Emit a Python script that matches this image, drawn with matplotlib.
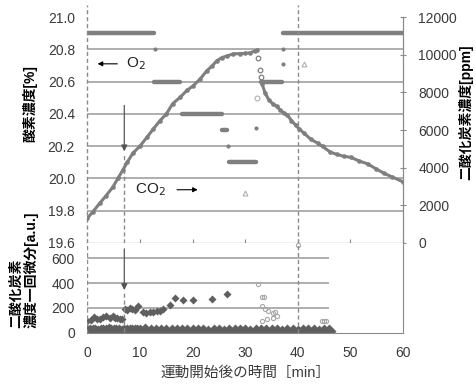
import numpy as np
import matplotlib
matplotlib.use("Agg")
import matplotlib.pyplot as plt

plt.rcParams['font.family'] = ['Liberation Sans', 'Noto Sans CJK JP', 'DejaVu Sans']

# --- O2 [%] (left axis): flat runs of points
o2_start = [0.0, 12.7, 18.0, 25.6, 27.0, 33.0, 37.2]
o2_end = [12.6, 17.6, 25.6, 26.6, 32.1, 36.9, 60.0]
o2_level = [20.9, 20.6, 20.4, 20.3, 20.1, 20.6, 20.9]
o2_pt_t = [12.8, 26.8, 37.2, 37.2, 32.1]
o2_pt_v = [20.8, 20.2, 20.8, 20.71, 20.31]
# faint open marks
o2_open_t = [32.3, 41.1, 30.0]
o2_open_v = [20.5, 20.71, 19.91]
o2_open_m = ['o', '^', '^']

# --- CO2 [ppm] (right axis)
co2_up_t = [0.0, 1.0, 2.3, 3.5, 4.8, 5.8, 6.7, 7.6, 8.6, 10.0, 11.3, 12.5, 13.8, 15.0,
            16.2, 17.6, 18.9, 20.1, 21.4, 22.7, 23.7, 24.6, 25.6, 26.6, 27.7, 29.0,
            30.0, 31.0, 31.8, 32.3]
co2_up_v = [1320, 1650, 2100, 2500, 2960, 3440, 3860, 4300, 4760, 5150, 5610, 6050, 6500, 6850,
            7400, 7730, 8100, 8350, 8700, 9150, 9400, 9680, 9850, 9940, 10040, 10060,
            10070, 10100, 10200, 10250]
co2_mid_t = [32.5, 32.8, 33.0]
co2_mid_v = [9850, 9200, 8800]
co2_dn_t = [33.2, 33.8, 34.5, 35.2, 36.0, 36.7, 37.4, 38.0, 38.8, 39.6, 40.3, 41.1, 42.5,
            43.8, 44.7, 46.2, 47.5, 48.8, 50.1, 51.7, 53.3, 54.8, 56.4, 58.0, 60.0]
co2_dn_v = [8450, 7950, 7600, 7400, 7250, 7050, 6900, 6800, 6500, 6250, 6050, 5850, 5500,
            5300, 5130, 4820, 4700, 4600, 4550, 4350, 4200, 3950, 3700, 3500, 3250]

# --- first derivative [a.u.]
diff_t = [0.0, 0.6, 1.3, 1.8, 2.3, 3.0, 3.6, 4.2, 4.8, 5.3, 5.7, 6.1, 6.5, 7.1, 7.5, 8.0,
          8.5, 9.0, 9.6, 10.5, 11.2, 11.8, 12.5, 13.2, 13.8, 14.3, 15.7, 16.6, 18.2, 20.1,
          23.7, 26.6]
diff_v = [89, 100, 122, 110, 105, 125, 130, 118, 130, 120, 113, 108, 105, 187, 180, 195,
          188, 178, 211, 162, 155, 162, 165, 170, 175, 187, 219, 276, 259, 259, 268, 308]
diff_open_t = [32.5, 33.2, 33.5, 33.2, 33.8, 34.4, 35.2, 35.6, 36.0, 35.2, 34.2, 33.2,
               44.6, 45.0, 45.3, 40.0]
diff_open_v = [389, 284, 290, 211, 186, 170, 154, 162, 130, 114, 105, 89, 89, 92, 95, 705]
base_t = [0.0, 0.5, 1.0, 1.5, 2.0, 2.5, 3.0, 3.5, 4.0, 4.5, 5.0, 5.5, 6.0, 6.5, 7.0, 7.5,
          8.0, 8.5, 9.0, 9.5, 10.0, 11.0, 12.0, 13.0, 14.0, 15.0, 16.0, 17.0, 18.0, 19.0,
          20.0, 21.0, 22.0, 23.0, 24.0, 25.0, 26.0, 27.0, 28.0, 29.0, 30.0, 31.0, 32.0,
          33.0, 34.0, 35.0, 36.0, 37.0, 38.0, 39.0, 40.0, 41.0, 42.0, 43.0, 44.0, 45.0, 46.0]
base_v = [12, 8, 15, 10, 6, 14, 9, 12, 16, 10, 8, 13, 11, 7, 15, 10, 12, 9, 14, 8, 11, 16,
          10, 13, 9, 12, 15, 8, 11, 14, 10, 12, 9, 6, 8, 10, 7, 9, 11, 8, 10, 7, 9, 12, 8,
          10, 9, 6, 8, 10, 7, 9, 8, 10, 7, 9, 8]

gray = '#7f7f7f'
dark = '#5f5f5f'
grid = '#a8a8a8'
txt = '#3a3a3a'

fig = plt.figure(figsize=(4.77, 3.84), dpi=100)
ax = fig.add_axes([0.1834, 0.3672, 0.6614, 0.5885])
ax2 = ax.twinx()
ax3 = fig.add_axes([0.1834, 0.1328, 0.6614, 0.2344])

# ---- top panel
ax.set_xlim(0, 60)
ax.set_ylim(19.6, 21.0)
ax2.set_ylim(0, 12000)
ax.hlines([19.8, 20.0, 20.2, 20.4, 20.6, 20.8], 0, 60, color=grid, lw=1.3, zorder=0)
ax.hlines(o2_level, o2_start, o2_end, color=gray, lw=3.2, capstyle='round', zorder=2)
ax.plot(o2_pt_t, o2_pt_v, 'o', color=gray, ms=3, mec='none', zorder=2)
for t, v, m in zip(o2_open_t, o2_open_v, o2_open_m):
    ax.plot(t, v, m, mfc='none', mec='#b0b0b0', ms=3.5, mew=0.8)

ax2.plot(co2_up_t, co2_up_v, '-o', color=gray, lw=2.2, ms=3.3, mec='none')
ax2.plot(co2_mid_t, co2_mid_v, 'o', mfc='none', mec=gray, ms=3.3, mew=0.9)
ax2.plot(co2_dn_t, co2_dn_v, '-o', color=gray, lw=2.2, ms=3.3, mec='none')

for s in ['top']:
    ax.spines[s].set_visible(False)
    ax2.spines[s].set_visible(False)
ax.spines['left'].set_visible(False)
ax2.spines['left'].set_visible(False)
for s in ['right', 'bottom']:
    ax2.spines[s].set_color('#8a8a8a')
    ax.spines[s].set_color('#8a8a8a')

ax.set_yticks([19.6, 19.8, 20.0, 20.2, 20.4, 20.6, 20.8, 21.0])
ax.set_yticklabels(['19.6', '19.8', '20.0', '20.2', '20.4', '20.6', '20.8', '21.0'])
ax.tick_params(axis='y', length=0, pad=9, labelsize=10, labelcolor=txt)
ax.set_xticks([0, 10, 20, 30, 40, 50, 60])
ax.tick_params(axis='x', direction='in', length=3, color='#8a8a8a', labelbottom=False)
ax2.set_yticks([0, 2000, 4000, 6000, 8000, 10000, 12000])
ax2.tick_params(axis='y', direction='inout', length=4, color='#8a8a8a', pad=9,
                labelsize=10, labelcolor=txt)

# dashed markers of time points
ax.axvline(0, 0, 1.055, color='#8a8a8a', ls=(0, (3, 2)), lw=1, clip_on=False)
ax.axvline(40, 0, 1.055, color='#8a8a8a', ls=(0, (3, 2)), lw=1, clip_on=False)
ax.plot([7, 7], [19.6, 20.16], color='#8a8a8a', ls=(0, (3, 2)), lw=1)
ax.annotate('', xy=(7, 20.15), xytext=(7, 20.47),
            arrowprops=dict(arrowstyle='-|>', color='#555555', lw=0.9, mutation_scale=9))

ax.annotate('', xy=(1.4, 20.71), xytext=(6.2, 20.71),
            arrowprops=dict(arrowstyle='-|>', color='black', lw=0.8, mutation_scale=7))
ax.text(7.3, 20.71, 'O$_2$', fontsize=11, va='center', ha='left', color='#222222')
ax.text(9.0, 19.93, 'CO$_2$', fontsize=11, va='center', ha='left', color='#222222')
ax.annotate('', xy=(21.5, 19.93), xytext=(16.5, 19.93),
            arrowprops=dict(arrowstyle='-|>', color='black', lw=0.8, mutation_scale=7))

# ---- bottom panel
ax3.set_xlim(0, 60)
ax3.set_ylim(-5, 725)
ax3.hlines([200, 400, 600], 0, 46, color=grid, lw=1.3, zorder=0)
ax3.plot(base_t, base_v, 'D', color=dark, ms=7, mec='none')
ax3.plot(diff_t, diff_v, 'D', color=dark, ms=4.5, mec='none')
ax3.plot(diff_open_t, diff_open_v, 'o', mfc='none', mec='#a8a8a8', ms=3, mew=0.8)
ax3.spines['top'].set_visible(False)
ax3.spines['left'].set_visible(False)
for s in ['right', 'bottom']:
    ax3.spines[s].set_color('#8a8a8a')
ax3.set_yticks([0, 200, 400, 600])
ax3.tick_params(axis='y', length=0, pad=9, labelsize=10, labelcolor=txt)
ax3.set_xticks([0, 10, 20, 30, 40, 50, 60])
ax3.tick_params(axis='x', length=0, pad=9, labelsize=10, labelcolor=txt)
ax3.axvline(0, 0, 1, color='#8a8a8a', ls=(0, (3, 2)), lw=1)
ax3.axvline(40, 0, 1, color='#8a8a8a', ls=(0, (3, 2)), lw=1)
ax3.plot([7, 7], [0, 330], color='#8a8a8a', ls=(0, (3, 2)), lw=1)
ax3.annotate('', xy=(7, 320), xytext=(7, 700),
             arrowprops=dict(arrowstyle='-|>', color='#555555', lw=0.9, mutation_scale=9))

# ---- labels
fig.text(0.063, 0.73, '酸素濃度[%]', rotation=90, fontsize=10, fontweight='bold',
         ha='center', va='center')
fig.text(0.976, 0.708, '二酸化炭素濃度[ppm]', rotation=90, fontsize=10, fontweight='bold',
         ha='center', va='center')
fig.text(0.034, 0.146, '二酸化炭素', rotation=90, fontsize=10, fontweight='bold',
         ha='center', va='bottom')
fig.text(0.066, 0.146, '濃度一回微分[a.u.]', rotation=90, fontsize=10, fontweight='bold',
         ha='center', va='bottom')
fig.text(0.514, 0.028, '運動開始後の時間［min］', fontsize=10.5, color=txt,
         ha='center', va='center')

fig.savefig('out.png', dpi=100)
